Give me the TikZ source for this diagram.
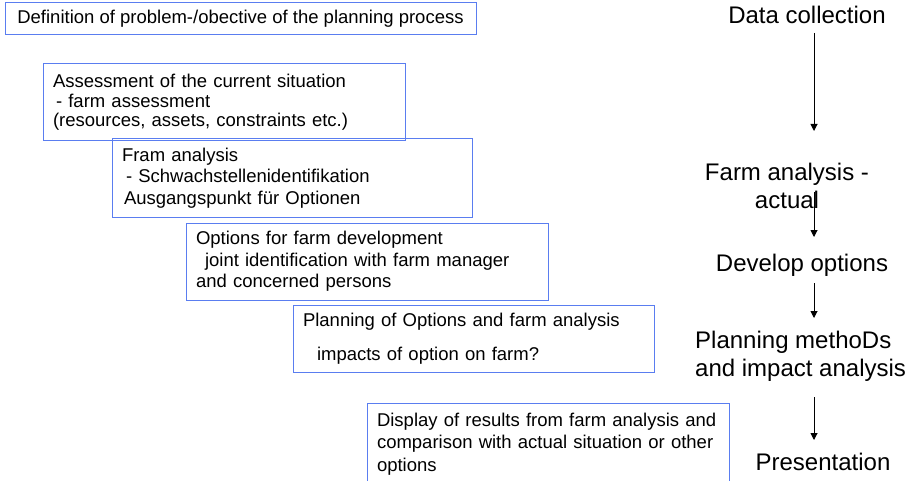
\documentclass[tikz,border=0pt]{standalone}
\usepackage{fontspec}
\setmainfont{Liberation Sans}
\usetikzlibrary{arrows.meta}

\definecolor{boxblue}{RGB}{90,125,240}

\tikzset{
  stepbox/.style={draw=boxblue, line width=1pt, anchor=north west, inner xsep=10pt, inner ysep=0pt, outer sep=0pt, align=left, font=\fontsize{18.5}{21.5}\selectfont},
  phase/.style={inner sep=0pt, font=\fontsize{24}{28}\selectfont},
  flow/.style={-{Triangle[length=7pt, width=7pt]}, line width=1pt},
}

\begin{document}
\begin{tikzpicture}[x=1pt, y=-1pt]
  \useasboundingbox (0,0) rectangle (909,481);

  % working steps
  \node[stepbox, minimum width=471pt, minimum height=32pt] (def) at (5,3) {Definition of problem-/obective of the planning process};
  \node[stepbox, text width=342pt, minimum height=77pt, font=\fontsize{18.5}{19.5}\selectfont] (assess) at (43,64) {Assessment of the current situation\\\hspace{3pt}- farm assessment\\(resources, assets, constraints etc.)};
  \node[stepbox, text width=340pt, minimum height=78pt] (fram) at (112,139) {Fram analysis\\\hspace{4pt}- Schwachstellenidentifikation\\\hspace{2pt}Ausgangspunkt f\"ur Optionen};
  \node[stepbox, text width=342pt, minimum height=77pt] (opts) at (186,223) {Options for farm development\\\hspace{9pt}joint identification with farm manager\\and concerned persons};
  \node[stepbox, text width=341pt, minimum height=67pt] (plan) at (293,305) {Planning of Options and farm analysis\\[12.5pt]\hspace{14pt}impacts of option on farm?};
  % last box runs off the bottom edge
  \node[stepbox, text width=342pt, minimum height=101pt, font=\fontsize{18.5}{22.5}\selectfont] (disp) at (367,403) {Display of results from farm analysis and\\comparison with actual situation or other\\options\\~};

  % phases
  \node[phase] (data) at (807,15) {Data collection};
  \node[phase, align=center] (farm) at (787,186) {Farm analysis -\\actual};
  \node[phase] (develop) at (802,265) {Develop options};
  \node[phase, align=left, anchor=west] (methods) at (695,356) {Planning methoDs\\and impact analysis};
  \node[phase] (present) at (823,462) {Presentation};

  \coordinate (a1) at (814,33);
  \coordinate (b1) at (814,131);
  \coordinate (a2) at (814,192);
  \coordinate (b2) at (814,237);
  \coordinate (a3) at (814,283);
  \coordinate (b3) at (814,318);
  \coordinate (a4) at (814,397);
  \coordinate (b4) at (814,440);

  \draw[flow] (a1) -- (b1);
  \draw[flow] (a2) -- (b2);
  \draw[flow] (a3) -- (b3);
  \draw[flow] (a4) -- (b4);
\end{tikzpicture}
\end{document}
